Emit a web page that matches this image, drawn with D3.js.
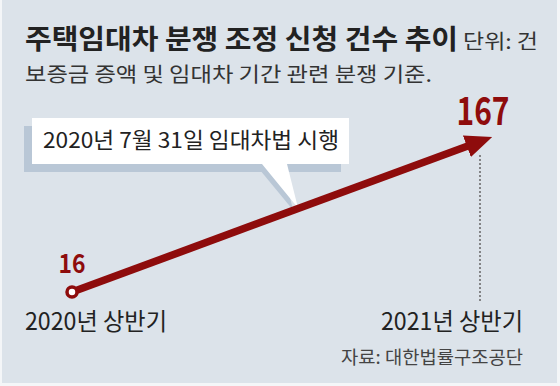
<!DOCTYPE html>
<html>
<head>
    <meta charset="utf-8">
    <title>주택임대차 분쟁 조정 신청 건수 추이</title>
    <script src="https://d3js.org/d3.v7.min.js"></script>
    <style>
        body{ margin: 0; background: #f4f6f8; }
        text{ font-family: "Noto Sans CJK KR", "Noto Sans", sans-serif; }
    </style>
</head>
<body>
    <svg id="chart" width="560" height="386"></svg>
    <script>
        /* data */
        var periods = ["2020년 상반기", "2021년 상반기"];
        var counts = [16, 167];
        var valueLabels = ["16", "167"];

        var w = 560, h = 386;
        var red = "#8e0c0c";
        var svg = d3.select("#chart");

        /* 배경 패널 */
        svg.append("rect").attr("x", 2).attr("y", 0).attr("width", 555).attr("height", 383)
            .attr("fill", "#dce3ea");

        var x = d3.scalePoint().domain(periods).range([72, 480]);
        var y = d3.scaleLinear().domain([0, 200]).range([308, 108.5]);

        /* 제목 */
        svg.append("text").attr("x", 25).attr("y", 49)
            .attr("font-size", 27.5).attr("font-weight", "bold").attr("fill", "#222")
            .attr("textLength", 433).attr("lengthAdjust", "spacingAndGlyphs")
            .text("주택임대차 분쟁 조정 신청 건수 추이");
        svg.append("text").attr("x", 463).attr("y", 49)
            .attr("font-size", 20).attr("fill", "#333")
            .attr("textLength", 75).attr("lengthAdjust", "spacingAndGlyphs")
            .text("단위: 건");
        svg.append("text").attr("x", 25).attr("y", 82)
            .attr("font-size", 20.5).attr("fill", "#333")
            .attr("textLength", 407).attr("lengthAdjust", "spacingAndGlyphs")
            .text("보증금 증액 및 임대차 기간 관련 분쟁 기준.");

        /* 말풍선 */
        svg.append("rect").attr("x", 24).attr("y", 126).attr("width", 317).attr("height", 46)
            .attr("fill", "#b9c7d6");
        svg.append("path").attr("d", "M255,164 L282,164 L293,210 Z").attr("fill", "#b9c7d6");
        svg.append("path").attr("d", "M32,118 L349,118 L349,164 L287,164 L298,208 L262,164 L32,164 Z")
            .attr("fill", "#ffffff");
        svg.append("text").attr("x", 43).attr("y", 148)
            .attr("font-size", 21.5).attr("fill", "#222")
            .attr("textLength", 296).attr("lengthAdjust", "spacingAndGlyphs")
            .text("2020년 7월 31일 임대차법 시행");

        /* 점선 */
        svg.append("line")
            .attr("x1", x(periods[1])).attr("x2", x(periods[1]))
            .attr("y1", 155).attr("y2", 302)
            .attr("stroke", "#666").attr("stroke-width", 1.5)
            .attr("stroke-dasharray", "2,2");

        /* 화살표 */
        svg.append("defs").append("marker")
            .attr("id", "arrow")
            .attr("markerUnits", "userSpaceOnUse")
            .attr("viewBox", "0 -12 27 24")
            .attr("refX", 14).attr("refY", 0)
            .attr("markerWidth", 27).attr("markerHeight", 24)
            .attr("orient", "auto")
            .append("path").attr("d", "M0,-11.5 L27,0 L0,11.5 Z").attr("fill", red);

        var pts = periods.map(function(p, i){ return [x(p), y(counts[i])]; });
        svg.append("path")
            .attr("d", d3.line()(pts))
            .attr("stroke", red).attr("stroke-width", 7.5)
            .attr("fill", "none")
            .attr("marker-end", "url(#arrow)");

        svg.append("circle")
            .attr("cx", pts[0][0]).attr("cy", pts[0][1]).attr("r", 5)
            .attr("fill", "#fff").attr("stroke", red).attr("stroke-width", 3.5);

        /* 값 라벨 */
        svg.append("text").attr("x", x(periods[0])).attr("y", 273)
            .attr("text-anchor", "middle").attr("font-size", 26).attr("font-weight", "bold")
            .attr("fill", red).attr("textLength", 27).attr("lengthAdjust", "spacingAndGlyphs")
            .text(valueLabels[0]);
        svg.append("text").attr("x", 483).attr("y", 125)
            .attr("text-anchor", "middle").attr("font-size", 39).attr("font-weight", "bold")
            .attr("fill", red).attr("textLength", 53).attr("lengthAdjust", "spacingAndGlyphs")
            .text(valueLabels[1]);

        /* 기간 라벨 */
        svg.append("text").attr("x", 25).attr("y", 330)
            .attr("font-size", 24).attr("fill", "#222")
            .attr("textLength", 142).attr("lengthAdjust", "spacingAndGlyphs")
            .text(periods[0]);
        svg.append("text").attr("x", 523).attr("y", 330)
            .attr("text-anchor", "end").attr("font-size", 24).attr("fill", "#222")
            .attr("textLength", 142).attr("lengthAdjust", "spacingAndGlyphs")
            .text(periods[1]);

        /* 출처 */
        svg.append("text").attr("x", 523).attr("y", 364)
            .attr("text-anchor", "end").attr("font-size", 18).attr("fill", "#444")
            .attr("textLength", 182).attr("lengthAdjust", "spacingAndGlyphs")
            .text("자료: 대한법률구조공단");
    </script>
</body>
</html>
